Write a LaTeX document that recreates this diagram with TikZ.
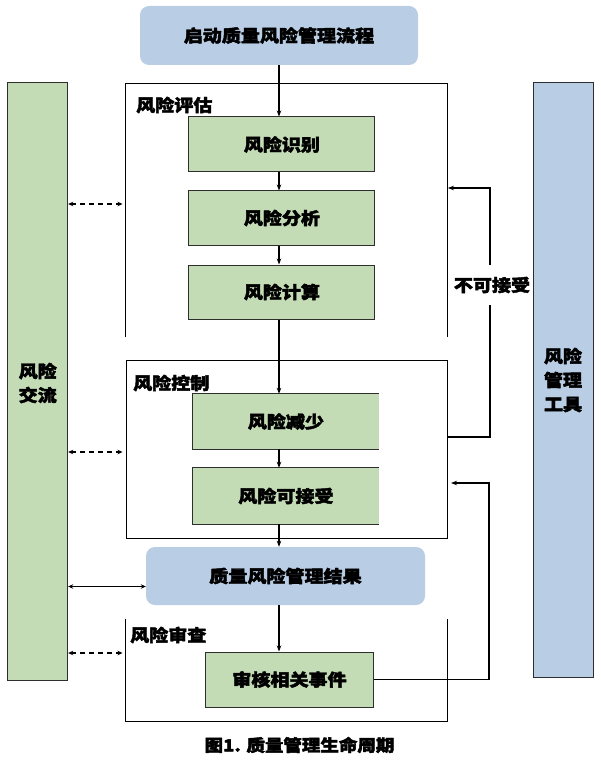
\documentclass[tikz,border=0pt]{standalone}
\usepackage{fontspec}
\newfontfamily\cjk{Noto Sans CJK SC}[FakeStretch=1.12, BoldFeatures={FakeBold=2.5}]
\usetikzlibrary{arrows.meta,calc}
\definecolor{gfill}{HTML}{C3DCB6}
\definecolor{bfill}{HTML}{B9CDE5}
\definecolor{edge}{HTML}{2E2E2E}
\begin{document}
\begin{tikzpicture}[x=1pt,y=-1pt,
  txt/.style={font=\cjk\bfseries\fontsize{17}{24}\selectfont, text=black, inner sep=0pt},
  gbox/.style={txt, fill=gfill, draw=edge, line width=1pt},
  gboxopen/.style={txt, fill=gfill},
  bbox/.style={txt, fill=bfill, rounded corners=9pt},
  bar/.style={txt, draw=edge, line width=1pt, align=center},
  framel/.style={draw=black, line width=0.9pt},
  arr/.style={-{Stealth[length=6pt,width=4.5pt]}, line width=1.1pt},
  darr/.style={{Stealth[length=5pt,width=4.5pt]}-{Stealth[length=5pt,width=4.5pt]}, line width=1.1pt},
  dsh/.style={dash pattern=on 5pt off 4pt}
]
\fill[white] (0,0) rectangle (600,767);
\useasboundingbox (0,0) rectangle (600,767);

% side bars
\node[bar, fill=gfill, minimum width=60pt, minimum height=597pt] (lbar) at (37.7,381.5) {};
\node[txt, align=center] (ltext) at (37.7,383) {风险\\交流};
\node[bar, fill=bfill, minimum width=60pt, minimum height=594pt] (rbar) at (563,380) {};
\node[txt, align=center] (rtext) at (563,380) {风险\\管理\\工具};

% top box
\node[bbox, minimum width=278pt, minimum height=59pt] (start) at (279,35.5) {启动质量风险管理流程};

% frames
\node[minimum width=322pt, minimum height=254pt, anchor=north west, inner sep=0pt] (assess) at (125.5,83) {};
\draw[framel] (assess.south west) -- (assess.north west) -- (assess.north east) -- (assess.south east);
\node[framel, minimum width=321.5pt, minimum height=178pt, anchor=north west, inner sep=0pt] (ctrl) at (125.5,360) {};
\node[minimum width=321.5pt, minimum height=102.5pt, anchor=north west, inner sep=0pt] (review) at (125.5,619) {};
\draw[framel] (review.north west) -- (review.south west) -- (review.south east) -- (review.north east);

% frame titles
\node[txt, anchor=west] (t1) at (136,105) {风险评估};
\node[txt, anchor=west] (t2) at (133,383) {风险控制};
\node[txt, anchor=west] (t3) at (130,635) {风险审查};

% green boxes
\node[gbox, minimum width=186pt, minimum height=55pt] (ident) at (281.9,144.5) {风险识别};
\node[gbox, minimum width=186pt, minimum height=54pt] (anal) at (281.9,218) {风险分析};
\node[gbox, minimum width=186pt, minimum height=54pt] (calc) at (281.9,292) {风险计算};
\node[gboxopen, minimum width=186pt, minimum height=55pt] (redu) at (285.9,421.5) {风险减少};
\draw[draw=edge, line width=1pt] (redu.north east) -- (redu.north west) -- (redu.south west) -- (redu.south east);
\node[gboxopen, minimum width=186pt, minimum height=56pt] (acc) at (285.9,496) {风险可接受};
\draw[draw=edge, line width=1pt] (acc.north east) -- (acc.north west) -- (acc.south west) -- (acc.south east);
\node[bbox, minimum width=279pt, minimum height=58pt] (res) at (285.5,576) {质量风险管理结果};
\node[gbox, minimum width=168pt, minimum height=55pt] (rev) at (289.5,679.5) {审核相关事件};

% main flow
\draw[arr] (start.south) -- (start.south |- ident.north);
\draw[arr] (ident.south -| start.south) -- (anal.north -| start.south);
\draw[arr] (anal.south -| start.south) -- (calc.north -| start.south);
\draw[arr] (calc.south -| start.south) -- (redu.north -| start.south);
\draw[arr] (redu.south -| start.south) -- (acc.north -| start.south);
\draw[arr] (acc.south -| start.south) -- (res.north -| start.south);
\draw[arr] (res.south -| start.south) -- (rev.north -| start.south);

% feedback loops
\coordinate (fb1a) at (490,437);
\coordinate (fb1b) at (490,188);
\draw[arr] (ctrl.east |- fb1a) -- (fb1a) -- (fb1b) -- (assess.east |- fb1b);
\node[txt, fill=white, inner xsep=1pt, inner ysep=12pt] (na) at (492,285) {不可接受};
\coordinate (fb2a) at (489,483);
\coordinate (fb2tip) at (451,483);
\draw[arr] (rev.east) -- (rev.east -| fb2a) -- (fb2a) -- (fb2tip);

% communication arrows
\coordinate (d1) at (0,204);
\coordinate (d2) at (0,452);
\coordinate (d3) at (0,653);
\coordinate (s1) at (0,586.5);
\draw[darr, dsh] (lbar.east |- d1) -- ($(assess.west |- d1)+(-3,0)$);
\draw[darr, dsh] (lbar.east |- d2) -- ($(ctrl.west |- d2)+(-3,0)$);
\draw[darr, dsh] (lbar.east |- d3) -- ($(review.west |- d3)+(-3,0)$);
\draw[darr] (lbar.east |- s1) -- (res.west |- s1);

% caption
\node[txt, font=\cjk\bfseries\fontsize{16.5}{20}\selectfont] (cap) at (299.5,745) {图1. 质量管理生命周期};
\end{tikzpicture}
\end{document}
